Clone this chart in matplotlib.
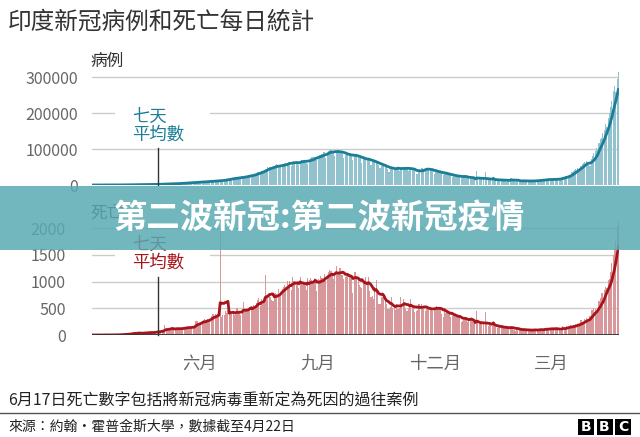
import numpy as np
import pandas as pd
import matplotlib
matplotlib.use('Agg')
import matplotlib.pyplot as plt
from matplotlib.patches import Rectangle
from matplotlib.lines import Line2D

plt.rcParams['font.family'] = ['Noto Sans CJK TC', 'DejaVu Sans']

# 每日新增病例（千例），2020-03-10 至 2021-04-22
cases_2020_03 = [0.01, 0.01, 0.01, 0.01, 0.02, 0.01, 0.02, 0.02, 0.03, 0.05, 0.08, 0.1, 0.07, 0.1, 0.09, 0.09, 0.15, 0.16, 0.09, 0.23, 0.15, 0.6]
cases_2020_04 = [0.4, 0.5, 0.7, 0.6, 0.6, 0.5, 0.7, 0.6, 0.8, 0.9, 0.9, 0.9, 1.0, 1.4, 1.0, 1.0, 1.1, 1.4, 1.3, 1.6, 1.3, 1.5, 1.7, 1.6, 1.8, 1.6, 1.6, 1.9, 1.9, 1.8]
cases_2020_05 = [2.4, 2.4, 2.6, 3.9, 3.0, 3.6, 3.3, 3.4, 3.3, 4.2, 3.6, 3.5, 3.7, 3.7, 3.9, 4.8, 5.0, 5.2, 4.6, 5.6, 5.6, 6.1, 6.7, 6.8, 6.5, 6.5, 6.4, 7.2, 7.6, 8.0, 8.4]
cases_2020_06 = [8.2, 8.3, 9.6, 9.3, 9.9, 9.9, 9.9, 9.0, 9.9, 11.1, 10.9, 11.4, 12.0, 11.5, 11.5, 10.7, 13.0, 13.6, 13.6, 14.5, 15.4, 14.8, 15.6, 16.9, 18.2, 18.6, 20.0, 19.9, 18.3, 18.7]
cases_2020_07 = [19.1, 21.9, 22.8, 22.3, 23.9, 22.3, 23.1, 24.9, 26.5, 27.1, 28.6, 28.6, 28.2, 29.4, 32.7, 35.5, 34.8, 37.4, 38.9, 39.8, 37.7, 45.7, 45.7, 50.0, 48.7, 49.9, 46.7, 48.5, 52.5, 55.1, 57.1]
cases_2020_08 = [54.7, 52.9, 52.1, 52.5, 56.3, 61.5, 62.2, 61.5, 64.4, 62.1, 53.6, 60.9, 66.9, 64.5, 64.7, 63.5, 55.1, 64.6, 69.7, 68.9, 69.9, 70.5, 61.4, 59.7, 67.2, 76.1, 77.3, 76.5, 79.0, 78.8, 69.9]
cases_2020_09 = [78.3, 83.9, 83.3, 86.4, 90.6, 90.8, 75.8, 89.7, 95.7, 96.6, 97.6, 94.4, 92.1, 81.9, 90.1, 97.9, 96.4, 93.3, 92.6, 86.9, 75.1, 83.3, 86.5, 86.1, 86.0, 85.4, 82.8, 70.6, 80.5, 86.8]
cases_2020_10 = [81.5, 79.5, 75.8, 74.4, 61.3, 72.0, 78.5, 70.5, 73.3, 74.4, 66.7, 55.3, 63.5, 67.7, 63.4, 62.2, 62.2, 55.7, 46.8, 54.0, 55.8, 54.5, 53.4, 50.1, 45.1, 36.5, 43.9, 49.9, 48.6, 46.8, 46.9]
cases_2020_11 = [46.9, 45.2, 38.3, 46.3, 50.2, 47.6, 50.4, 45.7, 45.9, 38.1, 44.3, 47.9, 44.9, 44.6, 41.1, 30.5, 29.2, 38.6, 45.6, 45.9, 46.2, 45.2, 44.0, 37.9, 44.4, 44.5, 43.1, 41.8, 41.8, 31.1]
cases_2020_12 = [36.6, 35.7, 36.6, 36.6, 36.7, 32.9, 26.6, 32.1, 31.5, 29.4, 30.0, 30.3, 27.1, 22.1, 26.4, 24.0, 22.9, 25.2, 25.2, 26.6, 18.7, 23.0, 24.7, 23.1, 23.1, 18.7, 20.0, 16.4, 20.5, 21.8, 20.0]
cases_2021_01 = [0, 38.0, 18.2, 16.5, 18.1, 20.3, 18.1, 0, 36.5, 16.3, 12.6, 15.9, 16.9, 15.6, 15.2, 15.1, 13.8, 10.1, 13.8, 15.2, 14.5, 14.3, 13.2, 13.2, 9.1, 12.7, 11.7, 18.9, 18.9, 13.1, 11.4]
cases_2021_02 = [8.6, 11.0, 12.9, 12.4, 12.4, 11.7, 11.8, 9.1, 9.1, 12.9, 12.2, 11.0, 12.1, 11.6, 9.1, 11.6, 12.9, 13.2, 13.2, 14.3, 14.3, 10.6, 13.7, 16.7, 16.6, 16.5, 16.8, 15.5]
cases_2021_03 = [12.3, 15.5, 14.9, 17.4, 16.8, 18.3, 18.7, 15.4, 17.9, 22.9, 23.3, 24.9, 25.3, 26.3, 24.4, 28.9, 35.9, 39.7, 40.9, 43.8, 46.9, 40.7, 47.3, 53.5, 59.1, 62.3, 62.7, 68.0, 62.3, 56.2, 53.5]
cases_2021_04 = [72.3, 81.5, 89.1, 93.2, 103.6, 96.6, 115.3, 126.8, 131.9, 145.4, 152.9, 168.9, 161.7, 185.2, 200.7, 217.4, 234.7, 261.5, 273.8, 259.2, 295.0, 314.8]

# 每日死亡人數
deaths_2020_03 = [0, 0, 1, 0, 1, 0, 0, 0, 1, 0, 1, 3, 0, 2, 1, 3, 4, 2, 4, 4, 7, 3]
deaths_2020_04 = [12, 10, 12, 11, 17, 30, 9, 29, 35, 40, 46, 29, 34, 31, 42, 27, 38, 37, 38, 53, 50, 36, 58, 43, 50, 45, 53, 70, 59, 69]
deaths_2020_05 = [77, 75, 83, 69, 195, 126, 87, 103, 111, 121, 128, 123, 117, 124, 100, 115, 120, 137, 128, 157, 137, 140, 142, 119, 154, 147, 170, 175, 270, 264, 193]
deaths_2020_06 = [230, 203, 260, 276, 295, 286, 294, 261, 274, 357, 395, 396, 386, 325, 380, 343, 2003, 334, 375, 380, 445, 413, 465, 445, 407, 384, 418, 380, 425, 507]
deaths_2020_07 = [434, 442, 380, 442, 613, 425, 487, 482, 475, 519, 551, 500, 553, 543, 606, 654, 687, 543, 681, 587, 648, 1129, 740, 740, 757, 705, 654, 636, 768, 779, 764]
deaths_2020_08 = [853, 771, 803, 857, 904, 933, 898, 1007, 871, 1007, 834, 1092, 1007, 1007, 942, 944, 878, 1092, 977, 983, 945, 912, 848, 1059, 1023, 1065, 1021, 948, 1066, 971, 819]
deaths_2020_09 = [1045, 1026, 1096, 1065, 1066, 1133, 1016, 1115, 1172, 1209, 1201, 1114, 1054, 1132, 1283, 1132, 1174, 1247, 1130, 1130, 1053, 1085, 1129, 1141, 1089, 1124, 1040, 776, 1179, 1181]
deaths_2020_10 = [1095, 1069, 940, 903, 884, 986, 971, 1090, 926, 1093, 816, 703, 730, 680, 895, 1033, 837, 579, 587, 706, 717, 702, 650, 578, 480, 490, 517, 704, 500, 551, 470]
deaths_2020_11 = [578, 490, 514, 704, 577, 670, 577, 490, 449, 512, 544, 670, 547, 518, 435, 446, 474, 584, 585, 584, 511, 486, 447, 480, 488, 524, 518, 495, 443, 482]
deaths_2020_12 = [499, 540, 512, 524, 482, 399, 336, 512, 402, 442, 410, 391, 339, 354, 368, 355, 342, 347, 341, 331, 251, 256, 335, 336, 302, 251, 279, 299, 285, 264, 251]
deaths_2021_01 = [0, 450, 224, 214, 201, 264, 234, 0, 430, 228, 168, 201, 198, 175, 191, 181, 145, 137, 162, 151, 153, 163, 127, 123, 131, 133, 123, 162, 163, 127, 94]
deaths_2021_02 = [84, 106, 117, 107, 119, 96, 78, 84, 86, 108, 96, 94, 96, 78, 90, 101, 112, 79, 106, 113, 100, 78, 102, 138, 117, 117, 113, 120]
deaths_2021_03 = [106, 113, 98, 158, 113, 108, 96, 79, 131, 160, 151, 114, 159, 134, 131, 188, 173, 188, 154, 197, 198, 212, 199, 275, 250, 251, 291, 312, 291, 271, 354]
deaths_2021_04 = [459, 469, 513, 478, 443, 478, 629, 684, 794, 780, 839, 904, 880, 1027, 1038, 1185, 1341, 1501, 1619, 1761, 2023, 2104]

month_ticks = ['2020-06-01', '2020-09-01', '2020-12-01', '2021-03-01']
month_labels = ['六月', '九月', '十二月', '三月']
case_ticks = [0, 100000, 200000, 300000]
death_ticks = [0, 500, 1000, 1500, 2000]

cases = np.concatenate([cases_2020_03, cases_2020_04, cases_2020_05, cases_2020_06, cases_2020_07,
                        cases_2020_08, cases_2020_09, cases_2020_10, cases_2020_11, cases_2020_12,
                        cases_2021_01, cases_2021_02, cases_2021_03, cases_2021_04]) * 1000
deaths = np.concatenate([deaths_2020_03, deaths_2020_04, deaths_2020_05, deaths_2020_06, deaths_2020_07,
                         deaths_2020_08, deaths_2020_09, deaths_2020_10, deaths_2020_11, deaths_2020_12,
                         deaths_2021_01, deaths_2021_02, deaths_2021_03, deaths_2021_04])
dates = pd.date_range('2020-03-10', periods=len(cases))

cases_avg = pd.Series(cases).rolling(7, min_periods=1).mean()
deaths_avg = pd.Series(deaths).rolling(7, min_periods=1).mean()

W, H = 640, 437
fig = plt.figure(figsize=(6.4, 4.37), dpi=100)


def fx(x):
    return x / W


def fy(y):
    return 1 - y / H


grid_c = '#cccccc'
tick_c = '#666666'
xlim = (dates[0] - pd.Timedelta(hours=12), dates[-1] + pd.Timedelta(hours=12))

# 病例
ax1 = fig.add_axes([fx(92), fy(185), fx(619) - fx(92), (185 - 66.2) / H])
ax1.bar(dates, cases, width=0.85, color='#93c2cf', linewidth=0)
ax1.plot(dates, cases_avg, color='#1b7d96', lw=2)
ax1.set_ylim(0, 330000)
ax1.set_yticks(case_ticks)
ax1.set_yticklabels([str(t) for t in case_ticks])

# 死亡
ax2 = fig.add_axes([fx(92), fy(335), fx(619) - fx(92), (335 - 220) / H])
ax2.bar(dates, deaths, width=0.85, color='#d8979a', linewidth=0)
ax2.plot(dates, deaths_avg, color='#a8141b', lw=2)
ax2.axhline(0, color='#333333', lw=1.3, zorder=3)
ax2.set_ylim(0, 2150)
ax2.set_yticks(death_ticks)
ax2.set_yticklabels([str(t) for t in death_ticks])

for ax in (ax1, ax2):
    ax.set_xlim(xlim)
    ax.set_axisbelow(True)
    ax.grid(axis='y', color=grid_c, lw=1)
    for s in ax.spines.values():
        s.set_visible(False)
    ax.tick_params(axis='y', length=0, pad=10, labelsize=11.5, labelcolor=tick_c)
    ax.tick_params(axis='x', length=0, pad=14, labelsize=12.5, labelcolor=tick_c)
ax2.tick_params(axis='y', pad=19)

ax1.set_xticks([])
ax2.set_xticks(pd.to_datetime(month_ticks))
ax2.set_xticklabels(month_labels)

# 標題與標籤
fig.text(fx(8), fy(22), '印度新冠病例和死亡每日統計', fontsize=17, color='#333333', va='center')
fig.text(fx(90), fy(61), '病例', fontsize=12, color='#333333', va='center')
fig.text(fx(90), fy(213), '死亡', fontsize=12, color='#333333', va='center')

# 七天平均數 註解
for top, col, y0, y1 in [(108, '#1b7d96', 148, 185), (236, '#a8141b', 277, 335)]:
    fig.add_artist(Rectangle((fx(115), fy(top + 38)), fx(95), 38 / H, transform=fig.transFigure,
                             facecolor='white', edgecolor='none', zorder=4))
    fig.text(fx(132), fy(top + 9), '七天', fontsize=12.5, color=col, va='center', zorder=5)
    fig.text(fx(132), fy(top + 27), '平均數', fontsize=12.5, color=col, va='center', zorder=5)
    fig.add_artist(Line2D([fx(158), fx(158)], [fy(y0), fy(y1)], transform=fig.transFigure,
                          color='#333333', lw=1, zorder=5))

# 橫幅
fig.add_artist(Rectangle((0, fy(250)), 1, 64 / H, transform=fig.transFigure,
                         facecolor='#59a9b3', alpha=0.85, edgecolor='none', zorder=10))
fig.text(0.5, fy(218), '第二波新冠:第二波新冠疫情', fontsize=24, fontweight='bold', color='white',
         ha='center', va='center', zorder=11)

# 註腳
fig.text(fx(8), fy(401), '6月17日死亡數字包括將新冠病毒重新定為死因的過往案例', fontsize=11.5,
         color='#222222', va='center')
fig.add_artist(Line2D([0, 1], [fy(413), fy(413)], transform=fig.transFigure, color='#555555', lw=1))
fig.text(fx(8), fy(427), '來源：約翰・霍普金斯大學，數據截至4月22日', fontsize=10, color='#222222', va='center')

for i, letter in enumerate('BBC'):
    x0 = 578 + i * 18.5
    fig.add_artist(Rectangle((fx(x0), fy(435)), fx(16), 16 / H, transform=fig.transFigure,
                             facecolor='black', edgecolor='none'))
    fig.text(fx(x0 + 8), fy(427), letter, fontsize=10, fontweight='bold', color='white',
             ha='center', va='center', family='DejaVu Sans')

fig.savefig('out.png', dpi=100)
